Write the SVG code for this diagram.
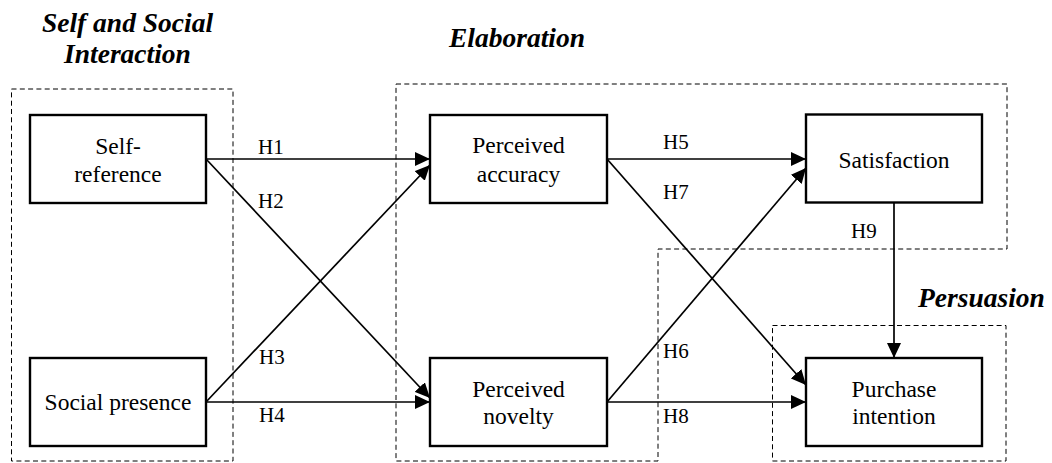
<svg xmlns="http://www.w3.org/2000/svg" width="1052" height="463" viewBox="0 0 1052 463">
<style>
.bg{fill:#fff}
.node{fill:#fff;stroke:#000;stroke-width:2.4}
.t{font-family:'Liberation Serif','Times New Roman',Times,'DejaVu Serif',serif;font-size:23.5px;fill:#000;text-anchor:middle}
.h{font-family:'Liberation Serif','Times New Roman',Times,'DejaVu Serif',serif;font-size:21px;fill:#000}
.title{font-family:'Liberation Serif','Times New Roman',Times,'DejaVu Serif',serif;font-size:27.5px;font-weight:bold;font-style:italic;fill:#000}
.grp{fill:none;stroke:#000;stroke-width:1;stroke-dasharray:5 3.3}
.c{fill:none;stroke:#000;stroke-width:1.7;marker-end:url(#arr)}
</style>
<defs>
<marker id="arr" markerUnits="userSpaceOnUse" markerWidth="16" markerHeight="14" refX="15" refY="7" orient="auto">
<path d="M0,0 L15,7 L0,14 z" fill="#000"/>
</marker>
</defs>
<rect class="bg" x="0" y="0" width="1052" height="463"/>
<g id="groups">
<rect class="grp" x="11.5" y="89" width="221.5" height="372"/>
<polygon class="grp" points="396,84 1007,84 1007,249 658,249 658,461 396,461"/>
<rect class="grp" x="772.5" y="325.5" width="233.5" height="135.5"/>
</g>
<g id="titles">
<text class="title" x="127.5" y="32" text-anchor="middle">Self and Social</text>
<text class="title" x="127.5" y="63" text-anchor="middle">Interaction</text>
<text class="title" x="517" y="47" text-anchor="middle">Elaboration</text>
<text class="title" x="918" y="307">Persuasion</text>
</g>
<g id="connectors">
<line class="c" x1="206" y1="159" x2="430" y2="159"/>
<line class="c" x1="206" y1="159" x2="430" y2="398"/>
<line class="c" x1="206" y1="402" x2="430" y2="165"/>
<line class="c" x1="206" y1="402" x2="430" y2="402"/>
<line class="c" x1="607" y1="159" x2="806" y2="159"/>
<line class="c" x1="607" y1="159" x2="806" y2="385"/>
<line class="c" x1="607" y1="402" x2="806" y2="168"/>
<line class="c" x1="607" y1="402" x2="806" y2="402"/>
<line class="c" x1="894" y1="203" x2="894" y2="358"/>
<text class="h" x="258" y="154">H1</text>
<text class="h" x="258" y="208">H2</text>
<text class="h" x="259" y="364">H3</text>
<text class="h" x="259" y="422">H4</text>
<text class="h" x="663" y="149">H5</text>
<text class="h" x="663" y="199">H7</text>
<text class="h" x="663" y="358">H6</text>
<text class="h" x="663" y="423">H8</text>
<text class="h" x="851" y="238">H9</text>
</g>
<g id="self-reference">
<rect class="node" x="30" y="115" width="176" height="88"/>
<text class="t" x="118" y="154">Self-</text>
<text class="t" x="118" y="182">reference</text>
</g>
<g id="social-presence">
<rect class="node" x="30" y="358" width="176" height="88"/>
<text class="t" x="118" y="410">Social presence</text>
</g>
<g id="perceived-accuracy">
<rect class="node" x="430" y="115" width="177" height="88"/>
<text class="t" x="518.5" y="153">Perceived</text>
<text class="t" x="518.5" y="182">accuracy</text>
</g>
<g id="perceived-novelty">
<rect class="node" x="430" y="358" width="177" height="88"/>
<text class="t" x="518.5" y="397">Perceived</text>
<text class="t" x="518.5" y="424">novelty</text>
</g>
<g id="satisfaction">
<rect class="node" x="806" y="114.5" width="176" height="88"/>
<text class="t" x="894" y="168">Satisfaction</text>
</g>
<g id="purchase-intention">
<rect class="node" x="806" y="358" width="176" height="88"/>
<text class="t" x="894" y="397">Purchase</text>
<text class="t" x="894" y="424">intention</text>
</g>
</svg>
